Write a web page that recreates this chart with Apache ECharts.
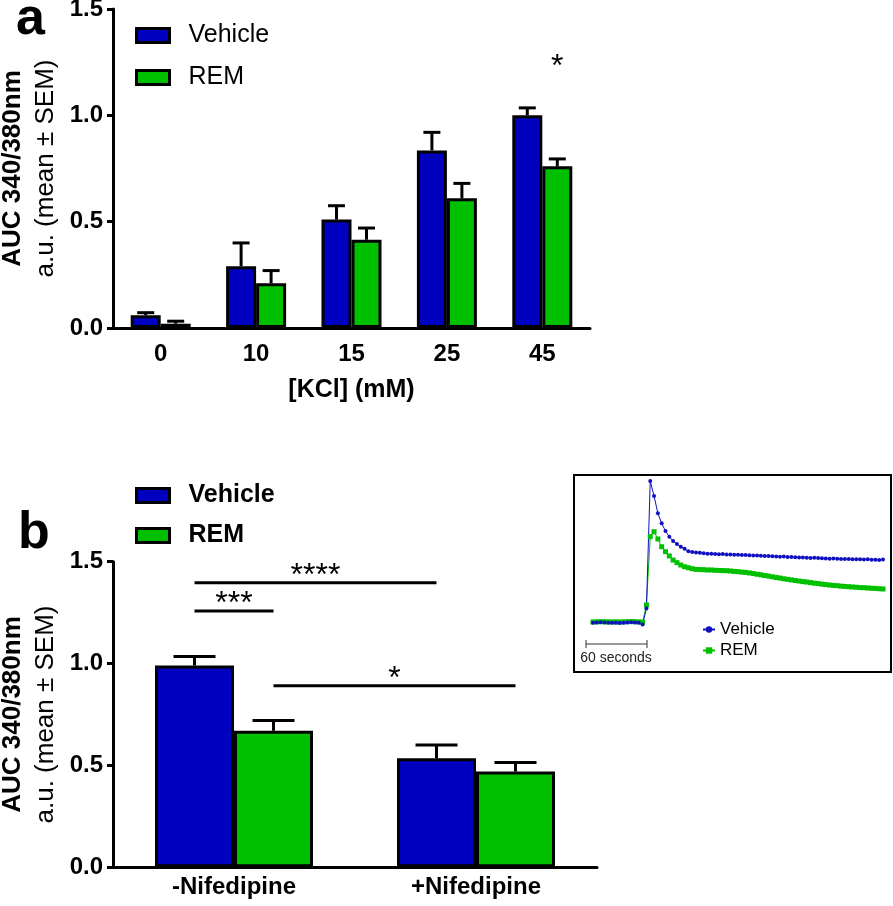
<!DOCTYPE html>
<html>
<head>
<meta charset="utf-8">
<script src="https://cdn.jsdelivr.net/npm/echarts@6/dist/echarts.min.js"></script>
<style>
    html, body { margin: 0; padding: 0; background: #fff; }
    #chart { width: 893px; height: 906px; }
</style>
</head>
<body>
<div id="chart"></div>
<script>
// panel a - KCl dose response
var kclDoses = ['0', '10', '15', '25', '45'];
var kclVehicle = [0.06, 0.29, 0.51, 0.835, 1.0];
var kclVehicleSem = [0.012, 0.11, 0.065, 0.085, 0.035];
var kclRem = [0.02, 0.21, 0.415, 0.61, 0.76];
var kclRemSem = [0.012, 0.06, 0.055, 0.07, 0.035];
var kclStar = [[4, 1.25]];        // [dose index, level] over REM bar

// panel b - nifedipine
var nifGroups = ['-Nifedipine', '+Nifedipine'];
var nifVehicle = [0.99, 0.535];
var nifVehicleSem = [0.045, 0.065];
var nifRem = [0.67, 0.47];
var nifRemSem = [0.05, 0.045];
// bars numbered 0..3 : vehicle-, REM-, vehicle+, REM+
var sigFrom = [0, 0, 1];
var sigTo = [1, 2, 3];
var sigLevel = [1.258, 1.397, 0.891];
var sigText = ['***', '****', '*'];

// inset - ratio traces
var traceVehicle = [1.000, 1.002, 1.003, 1.001, 1.000, 0.999, 1.000, 0.998, 1.000, 1.002, 1.003, 1.002, 1.000, 0.988,
    1.101, 2.000,
    1.894, 1.772, 1.701, 1.647, 1.607, 1.576, 1.555, 1.536, 1.522, 1.504, 1.499,
    1.496, 1.493, 1.490, 1.487,
    1.486, 1.485, 1.483, 1.484, 1.482,
    1.481, 1.479, 1.480, 1.478, 1.477,
    1.476, 1.474, 1.475, 1.472, 1.470,
    1.471, 1.469, 1.468, 1.466, 1.467,
    1.464, 1.463, 1.462, 1.460, 1.461,
    1.459, 1.457, 1.458, 1.456, 1.455,
    1.453, 1.452, 1.453, 1.451, 1.450,
    1.449, 1.450, 1.448, 1.447, 1.448,
    1.446, 1.447, 1.445, 1.444, 1.442, 1.446];
var traceRem = [1.005, 1.006, 1.007, 1.007, 1.006, 1.005, 1.006, 1.005, 1.006, 1.007, 1.008, 1.007, 1.006, 1.004,
    1.125, 1.607,
    1.642, 1.591, 1.536, 1.501, 1.471, 1.442, 1.424, 1.407, 1.395, 1.388, 1.381,
    1.376, 1.375, 1.374, 1.372, 1.372, 1.370, 1.369, 1.368, 1.367,
    1.365, 1.362, 1.360, 1.357, 1.355,
    1.351, 1.347, 1.342, 1.338, 1.333,
    1.329, 1.324, 1.319, 1.315, 1.310,
    1.306, 1.302, 1.298, 1.294, 1.290,
    1.287, 1.283, 1.279, 1.276, 1.272,
    1.269, 1.266, 1.263, 1.261, 1.258,
    1.256, 1.254, 1.252, 1.250, 1.248,
    1.247, 1.245, 1.243, 1.242, 1.240, 1.238];

var BLUE = '#0000C0';
var GREEN = '#00C000';
var FONT = 'Arial, "Liberation Sans", sans-serif';

var chart = echarts.init(document.getElementById('chart'));

// error bars (only the upper half, graphpad style)
var errBars = function (axis, means, sems, side, bw, cap) {
    return {
        type: 'custom', xAxisIndex: axis, yAxisIndex: axis, z: 5, silent: true,
        data: means.map(function (m, i) { return [i, m, sems[i]]; }),
        encode: {x: 0, y: 1},
        renderItem: function (params, api) {
            var base = api.coord([api.value(0), api.value(1)]);
            var top = api.coord([api.value(0), api.value(1) + api.value(2)]);
            var x = base[0] + side * bw / 2;
            var st = {stroke: '#000', lineWidth: 3};
            return {type: 'group', children: [
                {type: 'line', shape: {x1: x, y1: base[1], x2: x, y2: top[1]}, style: st},
                {type: 'line', shape: {x1: x - cap / 2, y1: top[1], x2: x + cap / 2, y2: top[1]}, style: st}
            ]};
        }
    };
};

var barA = 30, barB = 79;

var yAxisBase = function (idx) {
    return {
        type: 'value', gridIndex: idx, min: 0, max: 1.5, interval: 0.5,
        splitLine: {show: false},
        axisLine: {show: true, lineStyle: {color: '#000', width: 3}},
        axisTick: {show: true, length: 6, lineStyle: {color: '#000', width: 3}},
        axisLabel: {margin: 10, color: '#000', fontSize: 24, fontWeight: 'bold', fontFamily: FONT,
            formatter: function (v) { return v.toFixed(1); }},
        name: '{t|AUC 340/380nm}\n{s|a.u. (mean \u00b1 SEM)}',
        nameLocation: 'middle', nameRotate: 90, nameGap: 48,
        nameTextStyle: {fontFamily: FONT, color: '#000', rich: {
            t: {fontSize: 26, fontWeight: 'bold', lineHeight: 33, fontFamily: FONT, color: '#000'},
            s: {fontSize: 26, lineHeight: 33, fontFamily: FONT, color: '#000'}
        }}
    };
};

var option = {
    animation: false,
    backgroundColor: '#fff',
    grid: [
        {left: 113, top: 9, width: 477, height: 319, containLabel: false, outerBoundsMode: 'none'},
        {left: 113, top: 561.7, width: 484, height: 305.6, containLabel: false, outerBoundsMode: 'none'},
        {left: 593, top: 481, width: 290, height: 141.7, containLabel: false, outerBoundsMode: 'none'}
    ],
    xAxis: [
        {type: 'category', gridIndex: 0, data: kclDoses,
            axisLine: {lineStyle: {color: '#000', width: 3}}, axisTick: {show: false},
            axisLabel: {margin: 14, color: '#000', fontSize: 24, fontWeight: 'bold', fontFamily: FONT},
            name: '[KCl] (mM)', nameLocation: 'middle', nameGap: 50,
            nameTextStyle: {color: '#000', fontSize: 25, fontWeight: 'bold', fontFamily: FONT}},
        {type: 'category', gridIndex: 1, data: nifGroups,
            axisLine: {lineStyle: {color: '#000', width: 3}}, axisTick: {show: false},
            axisLabel: {margin: 8, color: '#000', fontSize: 24, fontWeight: 'bold', fontFamily: FONT}},
        {type: 'category', gridIndex: 2, boundaryGap: false, show: false,
            data: traceVehicle.map(function (v, i) { return i; })}
    ],
    yAxis: [
        yAxisBase(0),
        yAxisBase(1),
        {type: 'value', gridIndex: 2, min: 1, max: 2, show: false, splitLine: {show: false}}
    ],
    legend: [
        {left: 130, top: 18, orient: 'vertical', itemWidth: 33, itemHeight: 14, itemGap: 17, icon: 'rect',
            data: ['Vehicle', 'REM'], selectedMode: false,
            itemStyle: {borderColor: '#000', borderWidth: 3},
            formatter: '{n|{name}}',
            textStyle: {rich: {n: {padding: [0, 0, 0, 14], fontSize: 25, fontFamily: FONT, color: '#000'}}}},
        {left: 130, top: 478, orient: 'vertical', itemWidth: 33, itemHeight: 14, itemGap: 15, icon: 'rect',
            data: ['Vehicle', 'REM'], selectedMode: false,
            itemStyle: {borderColor: '#000', borderWidth: 3},
            formatter: '{n|{name}}',
            textStyle: {rich: {n: {padding: [0, 0, 0, 14], fontSize: 25, fontWeight: 'bold', fontFamily: FONT, color: '#000'}}}},
        {left: 697, top: 616, orient: 'vertical', itemWidth: 12, itemHeight: 8, itemGap: 4,
            data: ['Vehicle trace', 'REM trace'], selectedMode: false,
            formatter: function (n) { return n.split(' ')[0]; },
            textStyle: {fontSize: 17, fontFamily: FONT, color: '#000'}}
    ],
    graphic: [
        {type: 'text', style: {text: 'a', x: 16, y: 20, font: 'bold 52px ' + FONT, fill: '#000', textVerticalAlign: 'middle'}},
        {type: 'text', style: {text: 'b', x: 18, y: 534, font: 'bold 52px ' + FONT, fill: '#000', textVerticalAlign: 'middle'}},
        {type: 'rect', shape: {x: 574, y: 475, width: 317, height: 197}, style: {fill: 'none', stroke: '#000', lineWidth: 2}, z: 10},
        {type: 'group', z: 10, children: [
            {type: 'line', shape: {x1: 586, y1: 644, x2: 647, y2: 644}, style: {stroke: '#333', lineWidth: 1}},
            {type: 'line', shape: {x1: 586, y1: 640, x2: 586, y2: 648}, style: {stroke: '#333', lineWidth: 1}},
            {type: 'line', shape: {x1: 647, y1: 640, x2: 647, y2: 648}, style: {stroke: '#333', lineWidth: 1}},
            {type: 'text', style: {text: '60 seconds', x: 616, y: 658, font: '14px ' + FONT, fill: '#222',
                textAlign: 'center', textVerticalAlign: 'middle'}}
        ]}
    ],
    series: [
        {name: 'Vehicle', type: 'bar', xAxisIndex: 0, yAxisIndex: 0, data: kclVehicle, barWidth: barA, barGap: '0%',
            itemStyle: {color: BLUE, borderColor: '#000', borderWidth: 3}},
        {name: 'REM', type: 'bar', xAxisIndex: 0, yAxisIndex: 0, data: kclRem, barWidth: barA, barGap: '0%',
            itemStyle: {color: GREEN, borderColor: '#000', borderWidth: 3}},
        errBars(0, kclVehicle, kclVehicleSem, -1, barA, 17),
        errBars(0, kclRem, kclRemSem, 1, barA, 17),
        {type: 'custom', xAxisIndex: 0, yAxisIndex: 0, silent: true, data: kclStar,
            renderItem: function (params, api) {
                var p = api.coord([api.value(0), api.value(1)]);
                return {type: 'text', style: {text: '*', x: p[0] + barA / 2, y: p[1] + 5,
                    font: '32px ' + FONT, fill: '#000', textAlign: 'center', textVerticalAlign: 'middle'}};
            }},

        {name: 'Vehicle', type: 'bar', xAxisIndex: 1, yAxisIndex: 1, data: nifVehicle, barWidth: barB, barGap: '0%',
            itemStyle: {color: BLUE, borderColor: '#000', borderWidth: 3}},
        {name: 'REM', type: 'bar', xAxisIndex: 1, yAxisIndex: 1, data: nifRem, barWidth: barB, barGap: '0%',
            itemStyle: {color: GREEN, borderColor: '#000', borderWidth: 3}},
        errBars(1, nifVehicle, nifVehicleSem, -1, barB, 42),
        errBars(1, nifRem, nifRemSem, 1, barB, 42),
        {type: 'custom', xAxisIndex: 1, yAxisIndex: 1, silent: true, z: 6,
            data: sigFrom.map(function (f, i) { return [f, sigTo[i], sigLevel[i], i]; }),
            renderItem: function (params, api) {
                var barX = function (k) {
                    var c = api.coord([Math.floor(k / 2), 0])[0];
                    return c + (k % 2 ? 1 : -1) * barB / 2;
                };
                var x1 = barX(api.value(0)), x2 = barX(api.value(1));
                var y = api.coord([0, api.value(2)])[1];
                return {type: 'group', children: [
                    {type: 'line', shape: {x1: x1, y1: y, x2: x2, y2: y}, style: {stroke: '#000', lineWidth: 3}},
                    {type: 'text', style: {text: sigText[api.value(3)], x: (x1 + x2) / 2, y: y - 7,
                        font: '32px ' + FONT, fill: '#000', textAlign: 'center', textVerticalAlign: 'middle'}}
                ]};
            }},

        {name: 'REM trace', type: 'line', xAxisIndex: 2, yAxisIndex: 2, data: traceRem, clip: false,
            showAllSymbol: true, symbol: 'rect', symbolSize: 5,
            lineStyle: {color: GREEN, width: 1}, itemStyle: {color: GREEN}},
        {name: 'Vehicle trace', type: 'line', xAxisIndex: 2, yAxisIndex: 2, data: traceVehicle, clip: false,
            showAllSymbol: true, symbol: 'circle', symbolSize: 4,
            lineStyle: {color: '#1010C0', width: 1}, itemStyle: {color: '#1010C0'}}
    ]
};

chart.setOption(option);
</script>
</body>
</html>
